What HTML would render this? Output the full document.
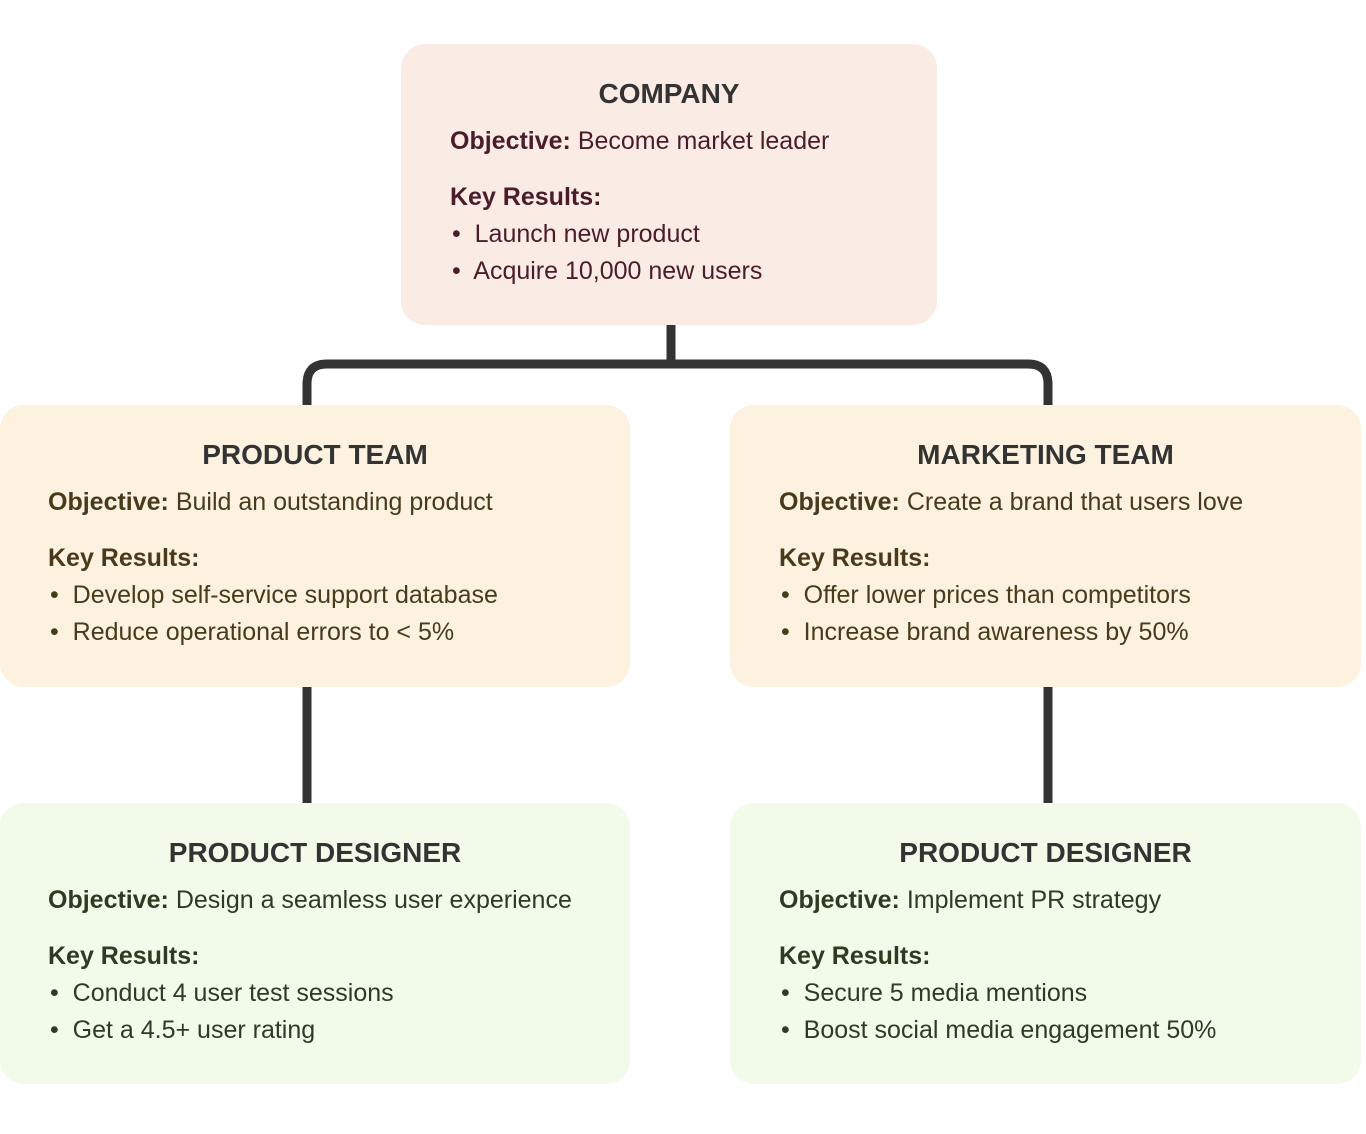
<!DOCTYPE html>
<html><head><style>
body{margin:0;width:1366px;height:1134px;background:#fff;position:relative;font-family:"Liberation Sans",sans-serif;overflow:hidden}
.b{position:absolute;border-radius:24px}
.t{position:absolute;white-space:nowrap;font-size:25px;line-height:30px;transform:translateY(-15px)}
.h{font-weight:bold;font-size:28px;color:#333;text-align:center}
.c1{color:#4a1c2c}.c2{color:#4a3a1c}.c3{color:#2e3a22}
b{font-weight:bold}
.ln{position:absolute;background:#333}
</style></head><body>
<div class="b" style="left:401px;top:44px;width:536px;height:281px;background:#fbebe5"></div>
<div class="b" style="left:0;top:405px;width:630px;height:282px;background:#fdf1df"></div>
<div class="b" style="left:730px;top:405px;width:631px;height:282px;background:#fdf1df"></div>
<div class="b" style="left:0;top:803px;width:630px;height:281px;background:#f2fbe9"></div>
<div class="b" style="left:730px;top:803px;width:631px;height:281px;background:#f2fbe9"></div>

<svg style="position:absolute;left:0;top:0" width="1366" height="1134">
<g fill="none" stroke="#333" stroke-width="9">
<path d="M671 325V364"/>
<path d="M307 405V384Q307 364 327 364H1028Q1048 364 1048 384V405"/>
<path d="M307 687V803"/><path d="M1048 687V803"/>
</g></svg>

<div class="t h" style="left:401px;width:536px;top:94px">COMPANY</div>
<div class="t c1" style="left:450px;top:141px"><b>Objective:</b> Become market leader</div>
<div class="t c1" style="left:450px;top:197px"><b>Key Results:</b></div>
<div class="t c1" style="left:452px;top:234px">•&nbsp; Launch new product</div>
<div class="t c1" style="left:452px;top:271px">•&nbsp; Acquire 10,000 new users</div>

<div class="t h" style="left:0;width:630px;top:455px">PRODUCT TEAM</div>
<div class="t c2" style="left:48px;top:502px"><b>Objective:</b> Build an outstanding product</div>
<div class="t c2" style="left:48px;top:558px"><b>Key Results:</b></div>
<div class="t c2" style="left:50px;top:595px">•&nbsp; Develop self-service support database</div>
<div class="t c2" style="left:50px;top:632px">•&nbsp; Reduce operational errors to &lt; 5%</div>

<div class="t h" style="left:730px;width:631px;top:455px">MARKETING TEAM</div>
<div class="t c2" style="left:779px;top:502px"><b>Objective:</b> Create a brand that users love</div>
<div class="t c2" style="left:779px;top:558px"><b>Key Results:</b></div>
<div class="t c2" style="left:781px;top:595px">•&nbsp; Offer lower prices than competitors</div>
<div class="t c2" style="left:781px;top:632px">•&nbsp; Increase brand awareness by 50%</div>

<div class="t h" style="left:0;width:630px;top:853px">PRODUCT DESIGNER</div>
<div class="t c3" style="left:48px;top:900px"><b>Objective:</b> Design a seamless user experience</div>
<div class="t c3" style="left:48px;top:956px"><b>Key Results:</b></div>
<div class="t c3" style="left:50px;top:993px">•&nbsp; Conduct 4 user test sessions</div>
<div class="t c3" style="left:50px;top:1030px">•&nbsp; Get a 4.5+ user rating</div>

<div class="t h" style="left:730px;width:631px;top:853px">PRODUCT DESIGNER</div>
<div class="t c3" style="left:779px;top:900px"><b>Objective:</b> Implement PR strategy</div>
<div class="t c3" style="left:779px;top:956px"><b>Key Results:</b></div>
<div class="t c3" style="left:781px;top:993px">•&nbsp; Secure 5 media mentions</div>
<div class="t c3" style="left:781px;top:1030px">•&nbsp; Boost social media engagement 50%</div>
</body></html>
